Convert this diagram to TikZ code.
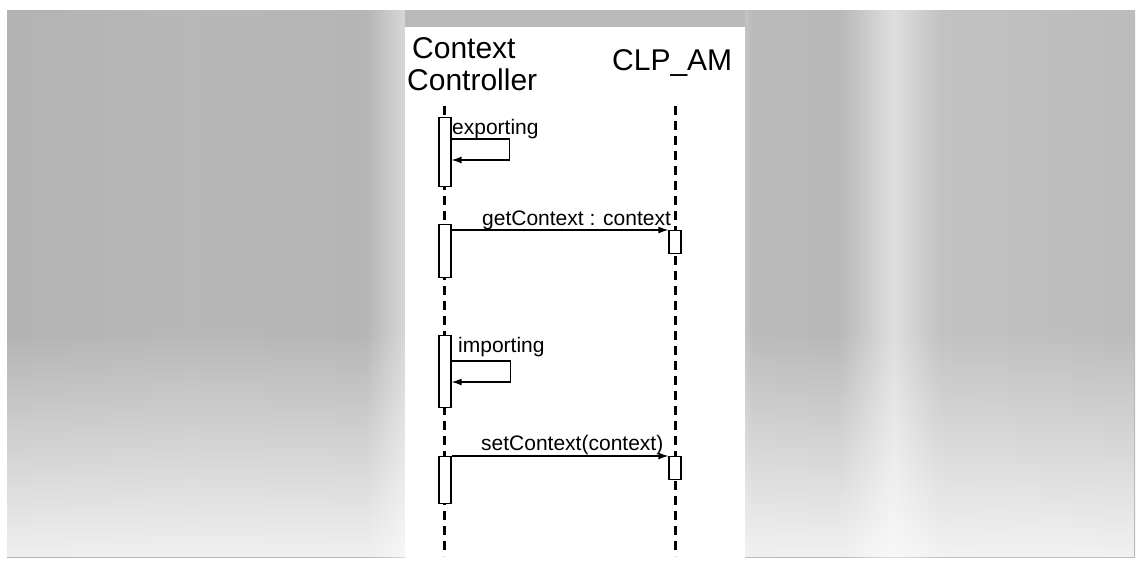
\documentclass[tikz,border=0pt]{standalone}
\usepackage{fontspec}
\setmainfont{Liberation Sans}
\usetikzlibrary{arrows.meta,calc,fadings}
\definecolor{gA}{gray}{0.73}
\definecolor{gB}{gray}{0.70}
\definecolor{gC}{gray}{0.72}
\definecolor{gD}{gray}{0.71}
\definecolor{gE}{gray}{0.87}
\definecolor{gF}{gray}{0.80}
\definecolor{gG}{gray}{0.76}
\definecolor{gH}{gray}{0.82}
\pgfdeclarehorizontalshading{bgleft}{100bp}{color(0bp)=(gA); color(23bp)=(gB); color(48bp)=(gC); color(70bp)=(gD); color(76bp)=(gE); color(81bp)=(gF); color(86bp)=(gA); color(100bp)=(gG)}
\pgfdeclarehorizontalshading{bgright}{100bp}{color(0bp)=(gH); color(5bp)=(gG); color(17bp)=(gA); color(22bp)=(gE); color(26bp)=(gA); color(37bp)=(gC); color(44bp)=(gE); color(50bp)=(gG); color(100bp)=(gD)}
\tikzset{
  head/.style={font=\fontsize{30}{32}\selectfont, inner sep=0pt, anchor=base west, align=left},
  lbl/.style={font=\fontsize{21}{23}\selectfont, inner sep=0pt, anchor=base west},
  lifeline/.style={line width=3pt, dash pattern=on 9pt off 6pt},
  act/.style={draw, fill=white, line width=1.2pt, minimum width=12pt, inner sep=0pt, anchor=north},
  msg/.style={line width=1.3pt, -{Latex[length=10pt,width=7pt]}}
}
\begin{document}
\begin{tikzpicture}[x=1pt,y=-1pt]
\useasboundingbox (0,0) rectangle (1140,570);
\fill[white] (0,0) rectangle (1140,570);
% scanned grey background
\shade[shading=bgleft] (7,10) rectangle (405,557);
\shade[shading=bgright] (745,10) rectangle (1135,557);
\fill[gray!55!white] (405,10) rectangle (745,27);
\fill[white, opacity=0.8, path fading=north] (7,330) rectangle (1135,557);
% white panel
\fill[white] (405,27) rectangle (745,556);

% lifeline heads
\node[head] (cc) at (407,90) {\hspace*{5pt}Context\\Controller};
\node[head] (clp) at (612,70) {CLP\_AM};

% lifelines
\coordinate (l1top) at (444,106);
\coordinate (l1bot) at (444,556);
\coordinate (l2top) at (675,106);
\coordinate (l2bot) at (675,556);
\draw[lifeline] (l1top) -- (l1bot);
\draw[lifeline] (l2top) -- (l2bot);

% activations
\node[act, minimum height=69pt] (a1) at (445,117) {};
\node[act, minimum height=53pt] (a2) at (445,224) {};
\node[act, minimum height=23pt] (b1) at (675,230) {};
\node[act, minimum height=72pt] (a3) at (445,335) {};
\node[act, minimum height=47pt] (a4) at (445,456) {};
\node[act, minimum height=23pt] (b2) at (675,456) {};

% exporting self call
\draw[msg] ($(a1.north east)+(0,22)$) -- ++(58,0) -- ++(0,21) -- ($(a1.north east)+(0,43)$);
\node[lbl] (lexp) at (452,134) {exporting};

% getContext
\draw[msg] (a2.east |- b1.north west) -- (b1.north west);
\node[lbl] (lget) at (482,225) {getContext : context};

% importing self call
\draw[msg] ($(a3.north east)+(0,26)$) -- ++(59,0) -- ++(0,21) -- ($(a3.north east)+(0,47)$);
\node[lbl] (limp) at (458,352) {importing};

% setContext
\draw[msg] (a4.north east) -- (b2.north west);
\node[lbl] (lset) at (481,450) {setContext(context)};
\end{tikzpicture}
\end{document}
